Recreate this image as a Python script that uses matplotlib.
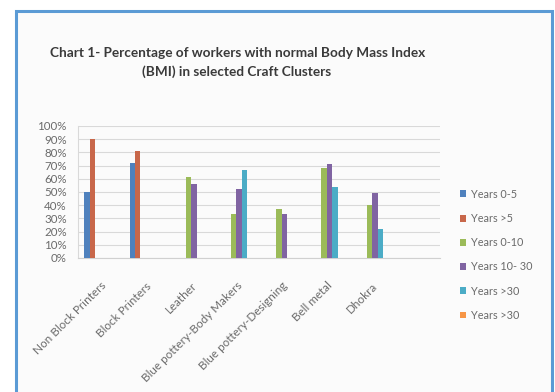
import matplotlib
matplotlib.use('Agg')
import matplotlib.pyplot as plt
import numpy as np
from matplotlib.patches import Rectangle

nan = np.nan

# clusters (last slot is empty in the original chart)
clusters = ['Non Block Printers', 'Block Printers', 'Leather',
            'Blue pottery-Body Makers', 'Blue pottery-Designing',
            'Bell metal', 'Dhokra', '']

series_names = ['Years 0-5', 'Years >5', 'Years 0-10',
                'Years 10- 30', 'Years >30', 'Years >30']

years_0_5 = [50, 72, nan, nan, nan, nan, nan, nan]
years_gt5 = [90, 81, nan, nan, nan, nan, nan, nan]
years_0_10 = [nan, nan, 61, 33, 37, 68, 40, nan]
years_10_30 = [nan, nan, 56, 52, 33, 71, 49, nan]
years_gt30 = [nan, nan, nan, 67, nan, 54, 22, nan]
years_gt30_b = [nan] * 8

colors = ['#4F81BD', '#C8674A', '#9BBB59', '#8064A2', '#4BACC6', '#F79646']

plt.rcParams['font.family'] = ['Lato', 'DejaVu Sans']
fig = plt.figure(figsize=(5.55, 3.92), dpi=100)

# chart frame, behind everything
frame = Rectangle((16 / 555, -0.05), (552 - 16) / 555, 1 - 11 / 392 + 0.05,
                  transform=fig.transFigure, facecolor='#FBFBFB',
                  edgecolor='#5B9BD5', lw=2.2, zorder=-10)
fig.patches.append(frame)

ax = fig.add_axes([78 / 555, 134 / 392, 362 / 555, 132 / 392])
ax.set_facecolor('none')

x = np.arange(len(clusters))
w = 0.12
all_vals = [years_0_5, years_gt5, years_0_10, years_10_30, years_gt30, years_gt30_b]
for k, vals in enumerate(all_vals):
    ax.bar(x + (k - 2.5) * w, vals, w, color=colors[k],
           label=series_names[k], zorder=3)

ax.set_xlim(-0.5, len(clusters) - 0.5)
ax.set_ylim(0, 100)
ax.set_yticks(range(0, 101, 10))
ax.set_yticklabels([f'{v}%' for v in range(0, 101, 10)])
ax.yaxis.grid(True, color='#D9D9D9', lw=0.8, zorder=0)
ax.set_xticks(x)
ax.set_xticklabels(clusters, rotation=45, ha='right', va='top',
                   rotation_mode='anchor')
ax.tick_params(axis='both', length=0, colors='#6A6A6A')
ax.tick_params(axis='x', pad=16, labelsize=8.4)
ax.tick_params(axis='y', pad=8, labelsize=8.3)
for s in ['top', 'right']:
    ax.spines[s].set_visible(False)
ax.spines['left'].set_color('#D9D9D9')
ax.spines['bottom'].set_color('#D0D0D0')

fig.text(0.428, 1 - 53 / 392, 'Chart 1- Percentage of workers with normal Body Mass Index',
         ha='center', va='center', fontsize=9.8, weight='bold', color='#3A3A3A')
fig.text(0.426, 1 - 72 / 392, '(BMI) in selected Craft Clusters',
         ha='center', va='center', fontsize=9.8, weight='bold', color='#3A3A3A')

fig.legend(loc='upper left', bbox_to_anchor=(450 / 555, 1 - 179 / 392),
           frameon=False, fontsize=7.8, handlelength=0.6, handleheight=0.6,
           handletextpad=0.4, labelspacing=1.22, labelcolor='#6A6A6A')

fig.savefig('out.png', dpi=100)
